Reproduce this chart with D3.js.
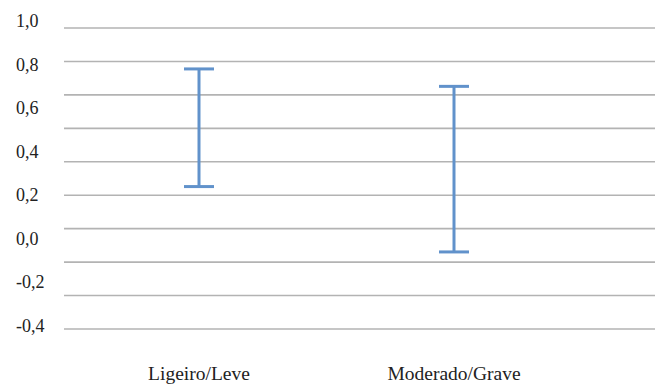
<!DOCTYPE html>
<html><head><meta charset="utf-8">
<script src="https://cdn.jsdelivr.net/npm/d3@7/dist/d3.min.js"></script>
<style>body{margin:0;background:#fff}svg{display:block}</style>
</head><body>
<svg id="chart" width="655" height="384"></svg>
<script>
const categories = ["Ligeiro/Leve", "Moderado/Grave"];
const upperValues = [0.78, 0.70];
const lowerValues = [0.24, -0.06];
const tickValues = [1.0, 0.8, 0.6, 0.4, 0.2, 0.0, -0.2, -0.4];
const gridLineIndex = [0,1,2,3,4,5,6,7,8,9];

const svg = d3.select("#chart");
const y = d3.scaleLinear().domain([-0.4, 1.0]).range([326, 21]);
const x = d3.scalePoint().domain(categories).range([71.5, 581.5]).padding(0.5);
const gridY = d3.scaleLinear().domain([0, 9]).range([28, 329]);
const fmt = v => d3.format(".1f")(v).replace(".", ",").replace("−", "-");

svg.append("g").selectAll("line").data(gridLineIndex).join("line")
  .attr("x1", 64).attr("x2", 655)
  .attr("y1", d => gridY(d)).attr("y2", d => gridY(d))
  .attr("stroke", "#b3b3b3").attr("stroke-width", 1.6);

svg.append("g").selectAll("text").data(tickValues).join("text")
  .attr("x", 16).attr("y", d => y(d) + 6)
  .attr("font-family", "Liberation Serif").attr("font-size", 18)
  .attr("fill", "#222").text(d => fmt(d));

const data = categories.map((c, i) => ({c, hi: upperValues[i], lo: lowerValues[i]}));
const color = "#6192cb";
const g = svg.append("g");
g.selectAll(".v").data(data).join("line")
  .attr("x1", d => x(d.c)).attr("x2", d => x(d.c))
  .attr("y1", d => y(d.hi)).attr("y2", d => y(d.lo))
  .attr("stroke", color).attr("stroke-width", 3);
g.selectAll(".t").data(data).join("line")
  .attr("x1", d => x(d.c) - 15).attr("x2", d => x(d.c) + 15)
  .attr("y1", d => y(d.hi)).attr("y2", d => y(d.hi))
  .attr("stroke", color).attr("stroke-width", 3);
g.selectAll(".b").data(data).join("line")
  .attr("x1", d => x(d.c) - 15).attr("x2", d => x(d.c) + 15)
  .attr("y1", d => y(d.lo)).attr("y2", d => y(d.lo))
  .attr("stroke", color).attr("stroke-width", 3);

svg.append("g").selectAll("text").data(categories).join("text")
  .attr("x", d => x(d)).attr("y", 380)
  .attr("text-anchor", "middle")
  .attr("font-family", "Liberation Serif").attr("font-size", 19.5)
  .attr("fill", "#222").text(d => d);
</script>
</body></html>
